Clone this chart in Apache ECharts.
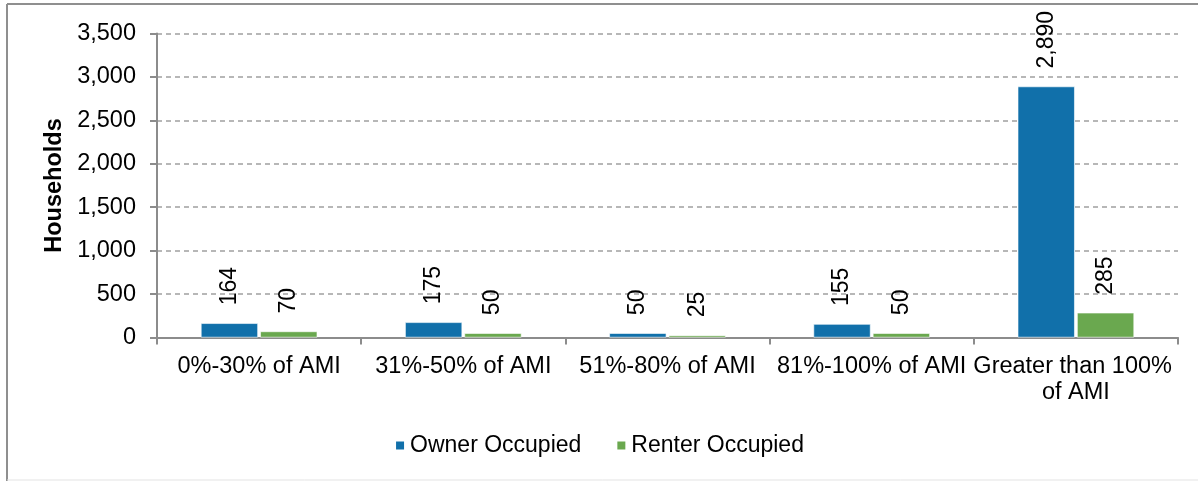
<!DOCTYPE html>
<html>
<head>
<meta charset="utf-8">
<script src="https://cdn.jsdelivr.net/npm/echarts@6/dist/echarts.min.js"></script>
<style>
html,body{margin:0;padding:0;background:#fff;}
#chart{width:1198px;height:481px;}
</style>
</head>
<body>
<div id="chart"></div>
<script>
const categories = ["0%-30% of AMI", "31%-50% of AMI", "51%-80% of AMI", "81%-100% of AMI", "Greater than 100% of AMI"];
const ownerOccupied = [164, 175, 50, 155, 2890];
const renterOccupied = [70, 50, 25, 50, 285];
const yTicks = { min: 0, max: 3500, interval: 500 };
const seriesNames = ["Owner Occupied", "Renter Occupied"];

const FONT = '"Liberation Sans", Arial, sans-serif';
const fmt = v => Number(v).toLocaleString('en-US');

const chart = echarts.init(document.getElementById('chart'), null, { renderer: 'canvas' });

const labelCfg = {
  show: true,
  position: 'top',
  rotate: 90,
  align: 'left',
  verticalAlign: 'middle',
  distance: 18,
  color: '#000',
  fontFamily: FONT,
  fontSize: 23,
  formatter: p => fmt(p.value)
};

chart.setOption({
  animation: false,
  textStyle: { fontFamily: FONT },
  graphic: [
    { type: 'line', shape: { x1: 7, y1: 4, x2: 7, y2: 481 }, style: { stroke: '#8f8f8f', lineWidth: 2 } },
    { type: 'line', shape: { x1: 7, y1: 4, x2: 1198, y2: 4 }, style: { stroke: '#8f8f8f', lineWidth: 2 } },
    { type: 'line', shape: { x1: 7, y1: 480, x2: 1198, y2: 480 }, style: { stroke: '#e3e3e3', lineWidth: 1 } }
  ],
  grid: { left: 157, right: 20, top: 33.5, bottom: 143.5, containLabel: false },
  legend: {
    data: seriesNames,
    left: 'center',
    top: 429,
    icon: 'rect',
    itemWidth: 10,
    itemHeight: 10,
    itemGap: 34,
    textStyle: { color: '#000', fontSize: 23, fontFamily: FONT }
  },
  xAxis: {
    type: 'category',
    data: categories,
    axisLine: { show: true, lineStyle: { color: '#8c8c8c', width: 2 } },
    axisTick: { show: true, length: 7, alignWithLabel: false, lineStyle: { color: '#8c8c8c', width: 2 } },
    axisLabel: {
      interval: 0,
      color: '#000',
      fontSize: 23.5,
      fontFamily: FONT,
      margin: 16,
      lineHeight: 26,
      width: 215,
      overflow: 'break'
    }
  },
  yAxis: {
    type: 'value',
    min: yTicks.min,
    max: yTicks.max,
    interval: yTicks.interval,
    name: 'Households',
    nameLocation: 'middle',
    nameGap: 88,
    nameTextStyle: { color: '#000', fontSize: 23.5, fontWeight: 'bold', fontFamily: FONT },
    axisLine: { show: true, lineStyle: { color: '#8c8c8c', width: 2 } },
    axisTick: { show: true, length: 7, lineStyle: { color: '#8c8c8c', width: 2 } },
    axisLabel: { color: '#000', fontSize: 23.5, fontFamily: FONT, margin: 21, formatter: v => fmt(v) },
    splitLine: { show: true, lineStyle: { color: '#a0a0a0', width: 1.5, type: [5, 4] } }
  },
  series: [
    {
      name: seriesNames[0],
      type: 'bar',
      data: ownerOccupied,
      barGap: '4%',
      barCategoryGap: '43%',
      itemStyle: { color: '#1170aa', borderColor: '#ffffff', borderWidth: 0.6 },
      label: labelCfg
    },
    {
      name: seriesNames[1],
      type: 'bar',
      data: renterOccupied,
      barGap: '4%',
      barCategoryGap: '43%',
      itemStyle: { color: '#6aa84f', borderColor: '#ffffff', borderWidth: 0.6 },
      label: labelCfg
    }
  ]
});
</script>
</body>
</html>
